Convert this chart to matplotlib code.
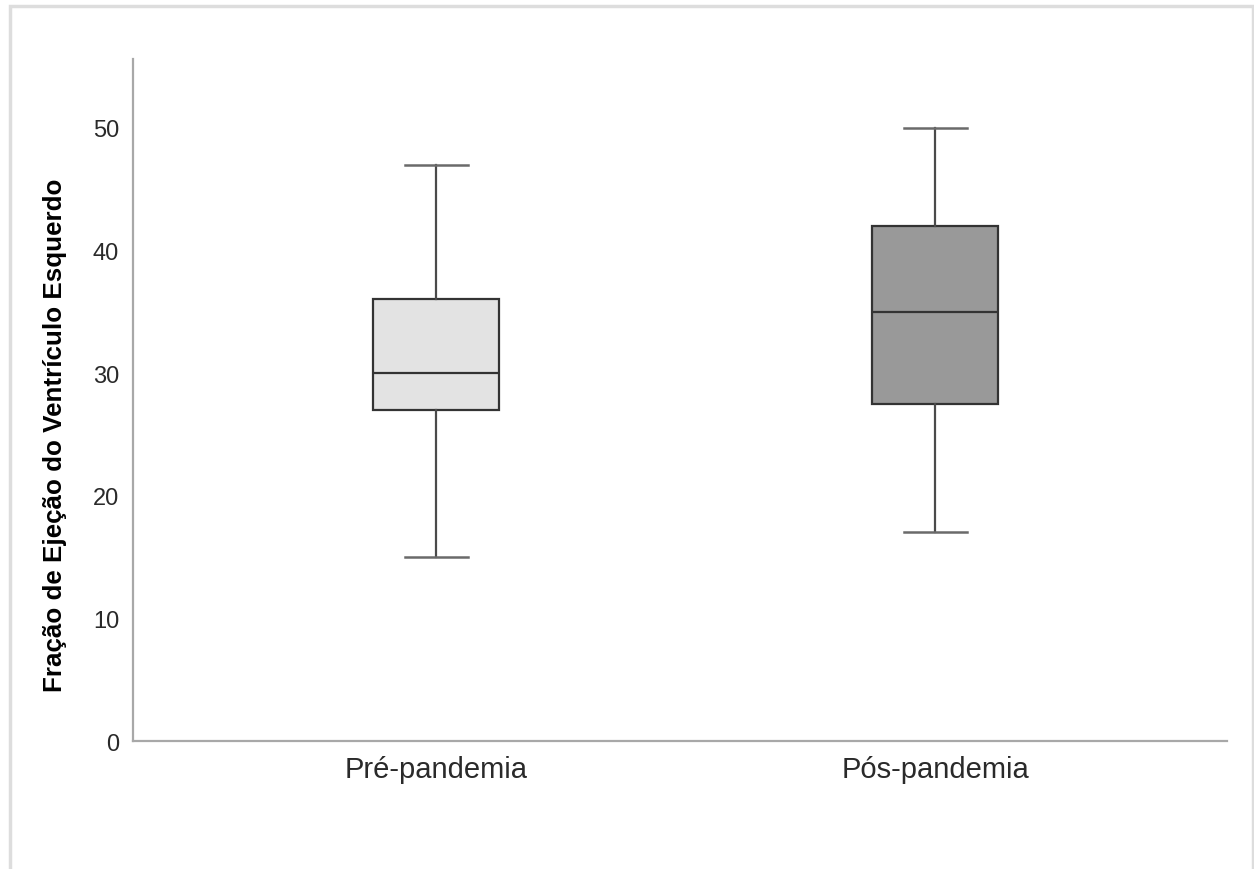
import matplotlib
matplotlib.use("Agg")
import matplotlib.pyplot as plt
from matplotlib.patches import Rectangle

plt.rcParams['font.family'] = ['Liberation Sans', 'DejaVu Sans']

# five-number summaries
groups = ['Pré-pandemia', 'Pós-pandemia']
whislo = [15, 17]
q1 = [27, 27.5]
med = [30, 35]
q3 = [36, 42]
whishi = [47, 50]
fills = ['#e3e3e3', '#999999']

stats = []
for i, g in enumerate(groups):
    stats.append(dict(label=g, whislo=whislo[i], q1=q1[i], med=med[i],
                      q3=q3[i], whishi=whishi[i], fliers=[]))

fig = plt.figure(figsize=(12.54, 8.70), dpi=100)
ax = fig.add_axes([0.106, 0.1471, 0.8725, 0.7839])

bp = ax.bxp(stats, positions=[1, 2], widths=0.2526, patch_artist=True,
            showfliers=False,
            boxprops=dict(edgecolor='#333333', linewidth=1.6),
            medianprops=dict(color='#333333', linewidth=1.6),
            whiskerprops=dict(color='#4a4a4a', linewidth=1.6),
            capprops=dict(color='#6a6a6a', linewidth=1.8),
            capwidths=0.126)
for patch, c in zip(bp['boxes'], fills):
    patch.set_facecolor(c)

ax.set_xlim(0.392, 2.585)
ax.set_ylim(0, 55.6)
ax.set_yticks([0, 10, 20, 30, 40, 50])
ax.tick_params(axis='both', length=0, colors='#2a2a2a')
ax.tick_params(axis='y', labelsize=17, pad=10)
ax.tick_params(axis='x', labelsize=21, pad=10)
for s in ['top', 'right']:
    ax.spines[s].set_visible(False)
for s in ['left', 'bottom']:
    ax.spines[s].set_color('#a8a8a8')
    ax.spines[s].set_linewidth(1.6)

ax.set_ylabel('Fração de Ejeção do Ventrículo Esquerdo', fontsize=18.7,
              fontweight='bold', color='black')
ax.yaxis.set_label_coords(-0.0605, 0.45)

# light frame around the chart
fig.patches.append(Rectangle((9.5 / 1254, -0.1), (1253 - 9.5) / 1254, 1.1 - 7 / 870,
                             transform=fig.transFigure, fill=False,
                             edgecolor='#dddddd', linewidth=2.5))

fig.savefig('out.png', dpi=100)
